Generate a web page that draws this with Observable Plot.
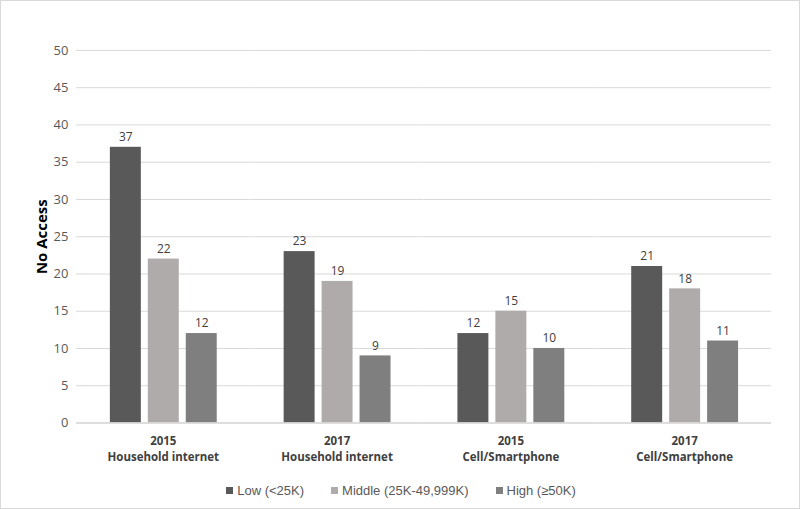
<!DOCTYPE html>
<html>
<head>
<meta charset="utf-8">
<script src="https://cdn.jsdelivr.net/npm/d3@7"></script>
<script src="https://cdn.jsdelivr.net/npm/@observablehq/plot@0.6"></script>
<style>
  html, body { margin: 0; padding: 0; background: #fff; }
  #frame { position: relative; width: 798px; height: 507px; border: 1px solid #d9d9d9; box-sizing: content-box; overflow: hidden; }
  #chart { position: absolute; left: -1px; top: -1px; }
  #legend { position: absolute; left: 0; top: 482px; width: 800px; display: flex; justify-content: center; gap: 27px;
    font-family: "Liberation Sans", Arial, sans-serif; font-size: 13px; color: #595959; }
  #legend span.item { display: inline-flex; align-items: center; }
  #legend span.sw { display: inline-block; width: 7px; height: 7px; margin-right: 4px; }
</style>
</head>
<body>
<div id="frame"><div id="chart"></div><div id="legend"></div></div>
<script>
const years = ["2015", "2017", "2015", "2017"];
const groupNames = ["Household internet", "Household internet", "Cell/Smartphone", "Cell/Smartphone"];
const series = ["Low (<25K)", "Middle (25K-49,999K)", "High (≥50K)"];
const lowValues = [37, 23, 12, 21];
const middleValues = [22, 19, 15, 18];
const highValues = [12, 9, 10, 11];
const yTicks = [0, 5, 10, 15, 20, 25, 30, 35, 40, 45, 50];
const colors = ["#595959", "#AFABAB", "#7F7F7F"];

const groups = years.map((y, i) => y + "\n" + groupNames[i]);
const seriesValues = [lowValues, middleValues, highValues];
const data = [];
groups.forEach((g, i) => {
  series.forEach((s, j) => data.push({group: g, series: s, value: seriesValues[j][i]}));
});

const chart = Plot.plot({
  width: 800,
  height: 475,
  marginTop: 50,
  marginBottom: 52,
  marginLeft: 76,
  marginRight: 28,
  style: {fontFamily: "'Open Sans', 'Liberation Sans', sans-serif", background: "transparent"},
  fx: {domain: groups, padding: 0, label: null, axis: null},
  x: {domain: series, paddingInner: 0.19, paddingOuter: 0.865, axis: null},
  y: {domain: [0, 50], ticks: yTicks, label: null},
  color: {domain: series, range: colors},
  marks: [
    Plot.gridY(yTicks, {stroke: "#d9d9d9", strokeOpacity: 1, strokeWidth: 1}),
    Plot.barY(data, {fx: "group", x: "series", y: "value", fill: "series"}),
    Plot.ruleY([0], {stroke: "#d9d9d9", strokeWidth: 1.5}),
    Plot.text(data, {fx: "group", x: "series", y: "value", text: d => String(d.value), dy: -10,
      fill: "#404040", fontSize: 12}),
    Plot.axisY({ticks: yTicks, tickSize: 0, tickPadding: 8, fontSize: 13, color: "#595959",
      label: "No Access", labelAnchor: "center", labelArrow: "none", labelOffset: 40}),
    Plot.axisFx({anchor: "bottom", tickSize: 0, tickPadding: 11, fontSize: 11.5, fontWeight: "bold", color: "#404040",
      lineHeight: 1.4, label: null})
  ]
});
chart.querySelectorAll("g[aria-label='y-axis label'] text").forEach(t => {
  t.setAttribute("font-weight", "bold");
  t.setAttribute("font-size", "15");
  t.setAttribute("fill", "#000");
});
document.getElementById("chart").appendChild(chart);

const legend = document.getElementById("legend");
series.forEach((s, i) => {
  const item = document.createElement("span");
  item.className = "item";
  const sw = document.createElement("span");
  sw.className = "sw";
  sw.style.background = colors[i];
  item.appendChild(sw);
  item.appendChild(document.createTextNode(s));
  legend.appendChild(item);
});
</script>
</body>
</html>
